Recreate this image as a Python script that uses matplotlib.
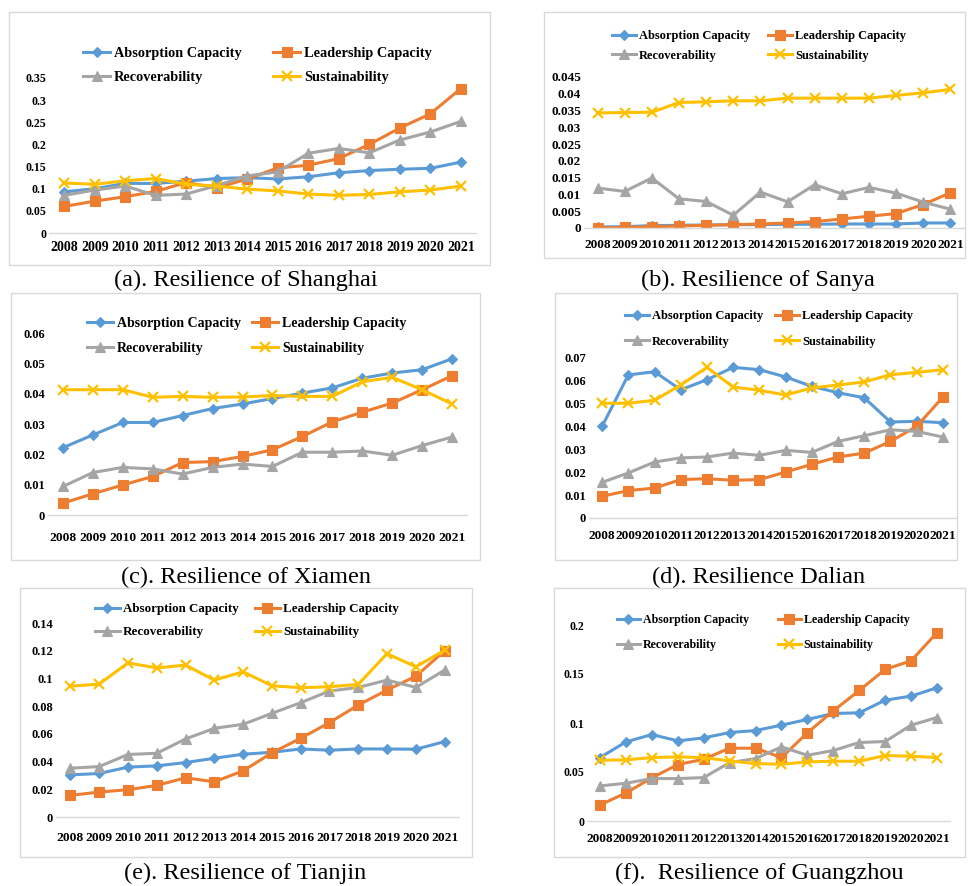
import numpy as np
import matplotlib
matplotlib.use("Agg")
from matplotlib import pyplot as plt
from matplotlib.patches import Rectangle

plt.rcParams['font.family'] = ['Liberation Serif', 'DejaVu Serif']

years = [str(y) for y in range(2008, 2022)]
series_names = ['Absorption Capacity', 'Leadership Capacity', 'Recoverability', 'Sustainability']

# Shanghai
sh_abs = [0.093, 0.100, 0.112, 0.112, 0.117, 0.123, 0.125, 0.122, 0.127, 0.136, 0.141, 0.144, 0.146, 0.160]
sh_lead = [0.060, 0.072, 0.082, 0.094, 0.114, 0.102, 0.122, 0.147, 0.153, 0.168, 0.200, 0.237, 0.269, 0.326]
sh_rec = [0.085, 0.097, 0.106, 0.085, 0.088, 0.107, 0.129, 0.138, 0.180, 0.191, 0.181, 0.210, 0.228, 0.252]
sh_sus = [0.113, 0.110, 0.118, 0.123, 0.110, 0.106, 0.099, 0.095, 0.088, 0.085, 0.087, 0.093, 0.097, 0.106]

# Sanya
sy_abs = [0.0003, 0.0004, 0.0007, 0.0008, 0.0009, 0.0010, 0.0010, 0.0011, 0.0011, 0.0012, 0.0012, 0.0012, 0.0015, 0.0015]
sy_lead = [0.0000, 0.0002, 0.0004, 0.0006, 0.0008, 0.0010, 0.0012, 0.0015, 0.0019, 0.0027, 0.0035, 0.0043, 0.0070, 0.0105]
sy_rec = [0.0119, 0.0109, 0.0149, 0.0087, 0.0079, 0.0038, 0.0107, 0.0078, 0.0129, 0.0102, 0.0121, 0.0104, 0.0077, 0.0056]
sy_sus = [0.0343, 0.0344, 0.0345, 0.0374, 0.0376, 0.0379, 0.0379, 0.0387, 0.0387, 0.0387, 0.0387, 0.0395, 0.0403, 0.0413]

# Xiamen
xm_abs = [0.0222, 0.0264, 0.0305, 0.0305, 0.0328, 0.0351, 0.0366, 0.0384, 0.0402, 0.0419, 0.0451, 0.0468, 0.0479, 0.0515]
xm_lead = [0.0039, 0.0070, 0.0099, 0.0127, 0.0173, 0.0176, 0.0193, 0.0215, 0.0259, 0.0307, 0.0339, 0.0369, 0.0413, 0.0459]
xm_rec = [0.0094, 0.0140, 0.0157, 0.0152, 0.0135, 0.0157, 0.0168, 0.0160, 0.0207, 0.0207, 0.0211, 0.0197, 0.0229, 0.0257]
xm_sus = [0.0413, 0.0413, 0.0413, 0.0388, 0.0391, 0.0388, 0.0389, 0.0394, 0.0391, 0.0391, 0.0439, 0.0454, 0.0413, 0.0366]

# Dalian
dl_abs = [0.0401, 0.0626, 0.0640, 0.0561, 0.0605, 0.0659, 0.0649, 0.0617, 0.0576, 0.0548, 0.0526, 0.0420, 0.0423, 0.0417]
dl_lead = [0.0095, 0.0120, 0.0131, 0.0168, 0.0172, 0.0165, 0.0168, 0.0201, 0.0235, 0.0267, 0.0284, 0.0335, 0.0401, 0.0529]
dl_rec = [0.0156, 0.0197, 0.0245, 0.0263, 0.0267, 0.0284, 0.0274, 0.0296, 0.0287, 0.0335, 0.0360, 0.0386, 0.0379, 0.0354]
dl_sus = [0.0502, 0.0502, 0.0515, 0.0582, 0.0659, 0.0573, 0.0559, 0.0538, 0.0569, 0.0582, 0.0595, 0.0627, 0.0637, 0.0649]

# Tianjin
tj_abs = [0.0304, 0.0314, 0.0360, 0.0369, 0.0393, 0.0424, 0.0453, 0.0467, 0.0491, 0.0482, 0.0491, 0.0491, 0.0489, 0.0544]
tj_lead = [0.0156, 0.0180, 0.0197, 0.0228, 0.0283, 0.0254, 0.0333, 0.0463, 0.0568, 0.0681, 0.0808, 0.0916, 0.1016, 0.1199]
tj_rec = [0.0352, 0.0364, 0.0451, 0.0460, 0.0563, 0.0640, 0.0669, 0.0748, 0.0825, 0.0909, 0.0935, 0.0988, 0.0935, 0.1060]
tj_sus = [0.0944, 0.0959, 0.1112, 0.1076, 0.1096, 0.0988, 0.1048, 0.0947, 0.0933, 0.0940, 0.0957, 0.1179, 0.1084, 0.1203]

# Guangzhou
gz_abs = [0.0647, 0.0807, 0.0882, 0.0818, 0.0848, 0.0903, 0.0923, 0.0978, 0.1036, 0.1097, 0.1104, 0.1233, 0.1274, 0.1360]
gz_lead = [0.0164, 0.0286, 0.0440, 0.0576, 0.0630, 0.0743, 0.0743, 0.0647, 0.0900, 0.1124, 0.1332, 0.1547, 0.1635, 0.1922]
gz_rec = [0.0358, 0.0385, 0.0433, 0.0433, 0.0443, 0.0596, 0.0637, 0.0756, 0.0671, 0.0719, 0.0801, 0.0811, 0.0978, 0.1056]
gz_sus = [0.0620, 0.0624, 0.0647, 0.0654, 0.0647, 0.0613, 0.0586, 0.0579, 0.0603, 0.0610, 0.0610, 0.0668, 0.0661, 0.0647]

captions = ['(a). Resilience of Shanghai', '(b). Resilience of Sanya', '(c). Resilience of Xiamen',
            '(d). Resilience Dalian', '(e). Resilience of Tianjin', '(f).  Resilience of Guangzhou']

colors = ['#5B9BD5', '#ED7D31', '#A5A5A5', '#FFC000']
markers = ['D', 's', '^', 'x']
msizes = [5.5, 7, 7, 7.5]

W, H = 968, 886
fig = plt.figure(figsize=(W / 100, H / 100), dpi=100)


def fr(x0, y0, x1, y1):
    return [x0 / W, 1 - y1 / H, (x1 - x0) / W, (y1 - y0) / H]


# pixel layout: box, axes, caption position, tick sizes, legend settings
panels = [
    dict(data=[sh_abs, sh_lead, sh_rec, sh_sus], box=(9, 12, 490, 265), ax=(49, 78, 476, 233),
         ymax=0.35, step=0.05, cap=(246, 280), yfs=8.6, xfs=10, xpad=6,
         lfs=10.3, lx=(83, 273), ly=47, lsp=0.8),
    dict(data=[sy_abs, sy_lead, sy_rec, sy_sus], box=(544, 12, 965, 258), ax=(584, 77, 964, 228),
         ymax=0.045, step=0.005, cap=(758, 280), yfs=9.5, xfs=9.6, xpad=8,
         lfs=9, lx=(612, 768), ly=30, lsp=0.62),
    dict(data=[xm_abs, xm_lead, xm_rec, xm_sus], box=(11, 293, 480, 560), ax=(48, 333, 467, 515),
         ymax=0.06, step=0.01, cap=(246, 577), yfs=9, xfs=9.7, xpad=12,
         lfs=10, lx=(87, 252), ly=317, lsp=0.86),
    dict(data=[dl_abs, dl_lead, dl_rec, dl_sus], box=(555, 293, 957, 560), ax=(589, 358, 956, 518),
         ymax=0.07, step=0.01, cap=(759, 577), yfs=9, xfs=9.6, xpad=8.5,
         lfs=9, lx=(625, 775), ly=310, lsp=1.09),
    dict(data=[tj_abs, tj_lead, tj_rec, tj_sus], box=(20, 588, 472, 857), ax=(56, 623, 459, 817),
         ymax=0.14, step=0.02, cap=(245, 873), yfs=9, xfs=9.7, xpad=11,
         lfs=9.4, lx=(95, 255), ly=603, lsp=0.85),
    dict(data=[gz_abs, gz_lead, gz_rec, gz_sus], box=(554, 588, 965, 857), ax=(587, 625, 950, 821),
         ymax=0.2, step=0.05, cap=(759, 873), yfs=8.5, xfs=9.6, xpad=9,
         lfs=8.6, lx=(617, 778), ly=614, lsp=1.12),
]

x = np.arange(len(years))

for p, cap in zip(panels, captions):
    bx0, by0, bx1, by1 = p['box']
    fig.add_artist(Rectangle((bx0 / W, 1 - by1 / H), (bx1 - bx0) / W, (by1 - by0) / H,
                             transform=fig.transFigure, fill=False, ec='#D9D9D9', lw=1))
    ax = fig.add_axes(fr(*p['ax']))
    ax.patch.set_alpha(0)
    handles = []
    for vals, c, m, ms, name in zip(p['data'], colors, markers, msizes, series_names):
        ln, = ax.plot(x, vals, color=c, marker=m, markersize=ms, lw=2.2,
                      markeredgewidth=1.6 if m == 'x' else 0.8, label=name)
        handles.append(ln)
    ax.set_xlim(-0.5, len(years) - 0.5)
    ax.set_ylim(0, p['ymax'])
    yt = np.round(np.arange(0, p['ymax'] + p['step'] / 2, p['step']), 4)
    ax.set_yticks(yt)
    ax.set_yticklabels(['{:g}'.format(v) for v in yt], fontsize=p['yfs'], fontweight='bold')
    ax.set_xticks(x)
    ax.set_xticklabels(years, fontsize=p['xfs'], fontweight='bold')
    ax.tick_params(length=0)
    ax.tick_params(axis='y', pad=2)
    ax.tick_params(axis='x', pad=p['xpad'])
    for s in ['top', 'right', 'left']:
        ax.spines[s].set_visible(False)
    ax.spines['bottom'].set_color('#D9D9D9')
    ax.spines['bottom'].set_linewidth(1)

    # two-column legend, one legend per column
    for col, hs in enumerate([(handles[0], handles[2]), (handles[1], handles[3])]):
        fig.legend(hs, [h.get_label() for h in hs], loc='upper left',
                   bbox_to_anchor=(p['lx'][col] / W, 1 - p['ly'] / H),
                   frameon=False, borderpad=0, borderaxespad=0, handlelength=1.9,
                   handletextpad=0.25, labelspacing=p['lsp'],
                   prop=dict(family='Liberation Serif', weight='bold', size=p['lfs']))

    fig.text(p['cap'][0] / W, 1 - p['cap'][1] / H, cap, ha='center', va='center',
             fontsize=17.5, family='Liberation Serif')

fig.savefig('out.png', dpi=100)
